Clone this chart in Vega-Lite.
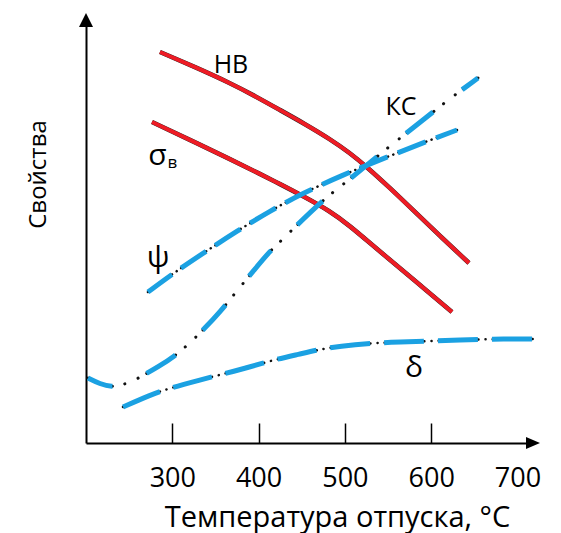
{
  "$schema": "https://vega.github.io/schema/vega-lite/v6.json",
  "width": 447,
  "height": 423,
  "autosize": "none",
  "padding": {"left": 86, "top": 20, "right": 28, "bottom": 90},
  "background": "white",
  "config": {"view": {"stroke": null}},
  "datasets": {
    "curves": [
      {"series": "HB", "T": 285.7, "v": 391}, {"series": "HB", "T": 326.3, "v": 376}, {"series": "HB", "T": 366.9, "v": 360},
      {"series": "HB", "T": 395.8, "v": 347}, {"series": "HB", "T": 424.8, "v": 333}, {"series": "HB", "T": 453.8, "v": 319},
      {"series": "HB", "T": 482.7, "v": 304}, {"series": "HB", "T": 505.9, "v": 290}, {"series": "HB", "T": 525.6, "v": 276},
      {"series": "HB", "T": 552.3, "v": 255}, {"series": "HB", "T": 578.9, "v": 233}, {"series": "HB", "T": 610.2, "v": 207},
      {"series": "HB", "T": 643.8, "v": 180},
      {"series": "sigma", "T": 276.5, "v": 321}, {"series": "sigma", "T": 320.5, "v": 303}, {"series": "sigma", "T": 366.9, "v": 284},
      {"series": "sigma", "T": 401.6, "v": 269}, {"series": "sigma", "T": 424.8, "v": 259}, {"series": "sigma", "T": 451.4, "v": 247},
      {"series": "sigma", "T": 482.7, "v": 232}, {"series": "sigma", "T": 505.9, "v": 217}, {"series": "sigma", "T": 529.1, "v": 200},
      {"series": "sigma", "T": 552.3, "v": 183}, {"series": "sigma", "T": 587.0, "v": 158}, {"series": "sigma", "T": 624.1, "v": 131},
      {"series": "psi", "T": 271.8, "v": 151}, {"series": "psi", "T": 303.1, "v": 171}, {"series": "psi", "T": 337.9, "v": 191},
      {"series": "psi", "T": 375.0, "v": 212}, {"series": "psi", "T": 413.2, "v": 232}, {"series": "psi", "T": 451.4, "v": 250},
      {"series": "psi", "T": 497.8, "v": 268}, {"series": "psi", "T": 537.2, "v": 282}, {"series": "psi", "T": 563.8, "v": 291},
      {"series": "psi", "T": 592.8, "v": 301}, {"series": "psi", "T": 629.9, "v": 313},
      {"series": "KC", "T": 202.3, "v": 65}, {"series": "KC", "T": 216.2, "v": 59}, {"series": "KC", "T": 230.1, "v": 56},
      {"series": "KC", "T": 241.7, "v": 58}, {"series": "KC", "T": 254.5, "v": 62}, {"series": "KC", "T": 264.9, "v": 67},
      {"series": "KC", "T": 283.4, "v": 76}, {"series": "KC", "T": 303.1, "v": 87}, {"series": "KC", "T": 320.5, "v": 100},
      {"series": "KC", "T": 337.9, "v": 115}, {"series": "KC", "T": 355.3, "v": 131}, {"series": "KC", "T": 373.8, "v": 151},
      {"series": "KC", "T": 395.8, "v": 174}, {"series": "KC", "T": 413.2, "v": 192}, {"series": "KC", "T": 427.1, "v": 203},
      {"series": "KC", "T": 438.7, "v": 213}, {"series": "KC", "T": 468.8, "v": 238}, {"series": "KC", "T": 485.1, "v": 250},
      {"series": "KC", "T": 505.9, "v": 264}, {"series": "KC", "T": 526.8, "v": 279}, {"series": "KC", "T": 558.1, "v": 301},
      {"series": "KC", "T": 595.1, "v": 326}, {"series": "KC", "T": 619.5, "v": 343}, {"series": "KC", "T": 654.2, "v": 365},
      {"series": "delta", "T": 242.9, "v": 36}, {"series": "delta", "T": 274.2, "v": 48}, {"series": "delta", "T": 297.3, "v": 55},
      {"series": "delta", "T": 332.1, "v": 63}, {"series": "delta", "T": 358.7, "v": 69}, {"series": "delta", "T": 390.0, "v": 76},
      {"series": "delta", "T": 416.7, "v": 83}, {"series": "delta", "T": 448.0, "v": 89}, {"series": "delta", "T": 467.7, "v": 93},
      {"series": "delta", "T": 494.3, "v": 97}, {"series": "delta", "T": 532.6, "v": 100}, {"series": "delta", "T": 563.8, "v": 101},
      {"series": "delta", "T": 598.6, "v": 102}, {"series": "delta", "T": 633.4, "v": 103}, {"series": "delta", "T": 668.1, "v": 104},
      {"series": "delta", "T": 722.6, "v": 104}
    ],
    "labels": [
      {"label": "НВ", "T": 368.0, "v": 370},
      {"label": "КС", "T": 565.0, "v": 328}
    ],
    "greek": [
      {"label": "δ", "T": 580.1, "v": 66},
      {"label": "ψ", "T": 283.4, "v": 176},
      {"label": "σ", "T": 282.9, "v": 278}
    ],
    "subs": [
      {"label": "в", "T": 294.5, "v": 275}
    ],
    "arrows": [
      {"dir": "up", "T": 200, "v": 423},
      {"dir": "right", "T": 718, "v": 0}
    ]
  },
  "encoding": {
    "x": {
      "field": "T", "type": "quantitative",
      "scale": {"domain": [200, 718], "nice": false, "zero": false},
      "axis": {
        "values": [300, 400, 500, 600, 700],
        "title": "Температура отпуска, °C",
        "grid": false,
        "domainColor": "#000", "domainWidth": 2,
        "tickColor": {"condition": {"test": "datum.value === 700", "value": "transparent"}, "value": "#000"},
        "tickWidth": 1.5, "tickSize": -20,
        "labelPadding": 42, "labelFontSize": 27, "labelFont": "Open Sans", "labelColor": "#000",
        "labelFlush": false, "labelOverlap": false,
        "titleFontSize": 29, "titleFont": "Open Sans", "titleFontWeight": "normal", "titleColor": "#000",
        "titleX": 251, "titleY": 83, "titleBaseline": "alphabetic", "titleAlign": "center",
        "encode": {
          "labels": {"update": {"dx": {"signal": "datum.value === 300 ? -18 : datum.value === 400 ? -8 : datum.value === 500 ? -5 : datum.value === 600 ? -11 : -9"}}}
        }
      }
    },
    "y": {
      "field": "v", "type": "quantitative",
      "scale": {"domain": [0, 423], "nice": false, "zero": false},
      "axis": {
        "title": "Свойства", "ticks": false, "labels": false, "grid": false,
        "domainColor": "#000", "domainWidth": 2,
        "titleFontSize": 24, "titleFont": "Open Sans", "titleFontWeight": "normal", "titleColor": "#000",
        "titleX": -48, "titleY": 154, "titleBaseline": "middle", "titleAlign": "center", "titleAngle": -90
      }
    }
  },
  "layer": [
    {
      "data": {"name": "curves"},
      "transform": [{"filter": "datum.series === 'HB' || datum.series === 'sigma'"}],
      "mark": {"type": "line", "color": "#222", "strokeWidth": 4.6, "interpolate": "basis"},
      "encoding": {"detail": {"field": "series"}}
    },
    {
      "data": {"name": "curves"},
      "transform": [{"filter": "datum.series === 'HB' || datum.series === 'sigma'"}],
      "mark": {"type": "line", "color": "#ee1c25", "strokeWidth": 4, "interpolate": "basis"},
      "encoding": {"detail": {"field": "series"}}
    },
    {
      "data": {"name": "curves"},
      "transform": [{"filter": "datum.series === 'psi'"}],
      "mark": {"type": "line", "color": "#111", "strokeWidth": 2.5, "strokeCap": "round", "strokeDash": [30, 5.5, 0.1, 5.5], "interpolate": "basis"}
    },
    {
      "data": {"name": "curves"},
      "transform": [{"filter": "datum.series === 'psi'"}],
      "mark": {"type": "line", "color": "#1ba1e2", "strokeWidth": 5, "strokeDash": [30, 11], "interpolate": "basis"}
    },
    {
      "data": {"name": "curves"},
      "transform": [{"filter": "datum.series === 'KC'"}],
      "mark": {"type": "line", "color": "#111", "strokeWidth": 3, "strokeCap": "round", "strokeDash": [34, 12.6, 0.1, 14.4, 0.1, 10], "strokeDashOffset": 8, "interpolate": "basis"}
    },
    {
      "data": {"name": "curves"},
      "transform": [{"filter": "datum.series === 'KC'"}],
      "mark": {"type": "line", "color": "#1ba1e2", "strokeWidth": 5, "strokeDash": [34, 37], "strokeDashOffset": 8, "interpolate": "basis"}
    },
    {
      "data": {"name": "curves"},
      "transform": [{"filter": "datum.series === 'delta'"}],
      "mark": {"type": "line", "color": "#111", "strokeWidth": 2.5, "strokeCap": "round", "strokeDash": [40, 7, 0.1, 7], "interpolate": "basis"}
    },
    {
      "data": {"name": "curves"},
      "transform": [{"filter": "datum.series === 'delta'"}],
      "mark": {"type": "line", "color": "#1ba1e2", "strokeWidth": 5, "strokeDash": [40, 14], "interpolate": "basis"}
    },
    {
      "data": {"name": "arrows"},
      "mark": {"type": "point", "filled": true, "color": "#000", "opacity": 1, "size": 196},
      "encoding": {
        "shape": {"field": "dir", "type": "nominal", "legend": null,
          "scale": {"domain": ["up", "right"], "range": ["M0,-1L1,1L-1,1Z", "M1,0L-1,-0.85L-1,0.85Z"]}}
      }
    },
    {
      "data": {"name": "labels"},
      "mark": {"type": "text", "align": "center", "baseline": "alphabetic", "fontSize": 25, "font": "Open Sans", "color": "#000"},
      "encoding": {"text": {"field": "label"}}
    },
    {
      "data": {"name": "greek"},
      "mark": {"type": "text", "align": "center", "baseline": "alphabetic", "fontSize": 30, "font": "Open Sans", "color": "#000"},
      "encoding": {"text": {"field": "label"}}
    },
    {
      "data": {"name": "subs"},
      "mark": {"type": "text", "align": "left", "baseline": "alphabetic", "fontSize": 17, "font": "Open Sans", "color": "#000"},
      "encoding": {"text": {"field": "label"}}
    }
  ]
}
